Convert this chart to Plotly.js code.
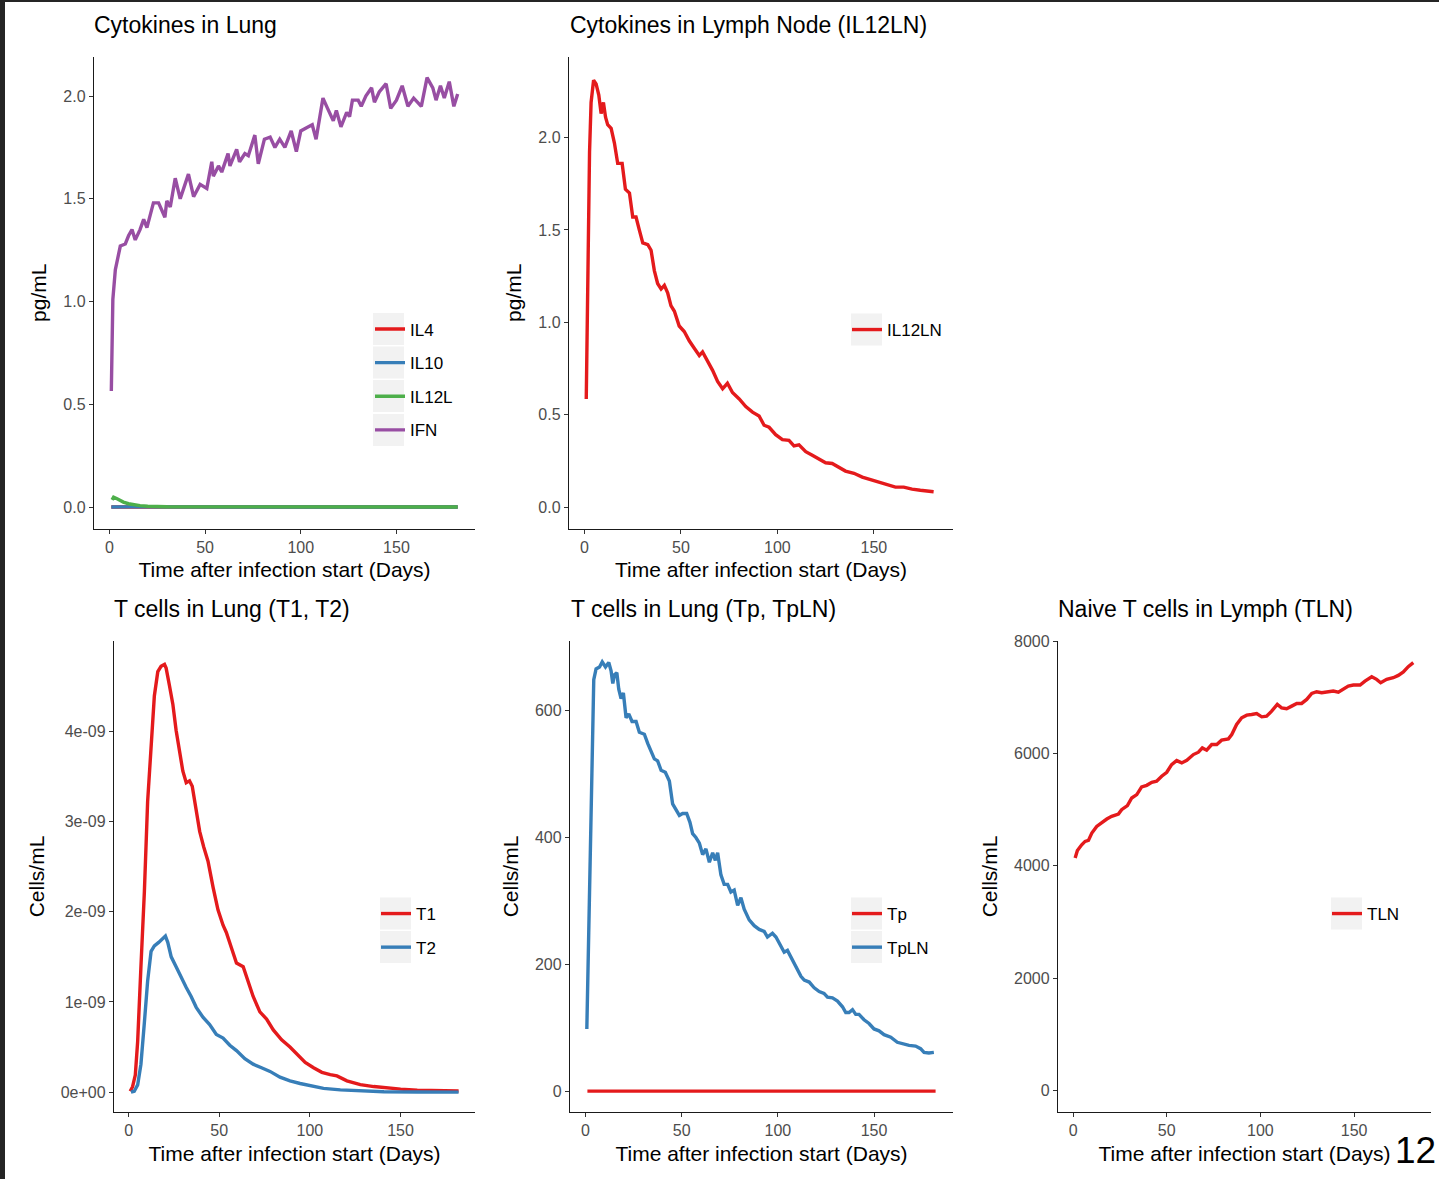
<!DOCTYPE html>
<html>
<head>
<meta charset="utf-8">
<script src="https://cdn.plot.ly/plotly-3.0.1.min.js"></script>
<style>
html,body{margin:0;padding:0;background:#fff;}
#chart{width:1439px;height:1179px;}
</style>
</head>
<body>
<div id="chart"></div>
<script>
// ---------------- DATA ----------------
const dayTicks = [0, 50, 100, 150];
const dayTickText = ['0', '50', '100', '150'];

// Panel 1: Cytokines in Lung (pg/mL)
const il4Days = [1, 91, 182];
const il4Values = [0, 0, 0];
const il10Days = [1, 5, 10, 182];
const il10Values = [0, 0.001, 0.0005, 0];
const il12lDays = [1.4, 2.2, 4, 7.3, 10, 12.5, 16, 20, 30, 182];
const il12lValues = [0.035, 0.048, 0.04, 0.024, 0.016, 0.011, 0.007, 0.004, 0.001, 0];
const ifnDays = [1, 1.8, 3.1, 5.7, 8.3, 10, 11.8, 13.5, 16, 17.9, 19.6, 23, 25.7, 29, 30, 31.8, 34.4, 37, 41.3, 44, 47.4, 50.9, 53.5, 54.3, 57, 58.7, 62, 63, 66.5, 68, 70.8, 72.6, 76, 77.8, 81, 84, 86.5, 89, 91.7, 95, 97.7, 100, 104, 106, 108, 111.6, 114, 117, 118.6, 121, 124, 125.5, 127, 130, 131.6, 134, 137, 138.5, 141, 144.6, 147, 150, 153, 156, 159, 163, 166, 169, 170.7, 173, 175, 177.6, 180, 182];
const ifnValues = [0.565, 1.01, 1.155, 1.27, 1.28, 1.32, 1.35, 1.30, 1.35, 1.40, 1.36, 1.48, 1.48, 1.41, 1.49, 1.46, 1.60, 1.50, 1.62, 1.51, 1.57, 1.55, 1.68, 1.61, 1.66, 1.63, 1.72, 1.66, 1.74, 1.68, 1.72, 1.71, 1.81, 1.67, 1.79, 1.80, 1.75, 1.79, 1.75, 1.83, 1.73, 1.83, 1.85, 1.86, 1.79, 1.99, 1.94, 1.88, 1.93, 1.85, 1.92, 1.90, 1.98, 1.98, 1.95, 2.00, 2.04, 1.97, 2.02, 2.06, 1.94, 1.98, 2.05, 1.95, 1.99, 1.95, 2.09, 2.04, 1.98, 2.05, 1.99, 2.07, 1.95, 2.01];
const pgTicks = [0, 0.5, 1, 1.5, 2];
const pgTickText = ['0.0', '0.5', '1.0', '1.5', '2.0'];

// Panel 2: Cytokines in Lymph Node (pg/mL)
const il12lnDays = [0.9, 1.7, 2.6, 3.4, 4.7, 6, 7.4, 8.6, 9.8, 10.9, 12, 13.8, 15.5, 17.2, 19.5, 21.2, 23.3, 25, 26.7, 28.4, 30.2, 32.8, 34.5, 36.2, 37.9, 39.7, 41.4, 43.1, 44.8, 46.6, 49.1, 51.7, 54.3, 56.9, 59.5, 61.2, 63.8, 66.4, 69, 71.6, 74.1, 76.7, 80.2, 83.6, 87.1, 90.5, 93.1, 95.7, 99.1, 102.6, 106, 108.6, 111.2, 114.7, 118.1, 121.6, 125, 128.4, 131.9, 135.3, 139.7, 144, 148.3, 152.6, 156.9, 161.2, 165.5, 169.8, 174.1, 181];
const il12lnValues = [0.585, 1.32, 1.92, 2.19, 2.31, 2.29, 2.23, 2.13, 2.19, 2.11, 2.07, 2.05, 1.97, 1.86, 1.86, 1.72, 1.70, 1.57, 1.57, 1.50, 1.43, 1.42, 1.39, 1.28, 1.21, 1.18, 1.20, 1.16, 1.09, 1.06, 0.98, 0.95, 0.90, 0.86, 0.82, 0.84, 0.79, 0.74, 0.68, 0.64, 0.67, 0.62, 0.585, 0.544, 0.514, 0.493, 0.443, 0.432, 0.392, 0.365, 0.361, 0.331, 0.337, 0.30, 0.28, 0.26, 0.24, 0.236, 0.215, 0.195, 0.183, 0.162, 0.148, 0.134, 0.118, 0.108, 0.108, 0.097, 0.091, 0.083];

// Panel 3: T cells in Lung (T1, T2) (cells/mL)
const t1Days = [0.9, 2.2, 3.7, 5, 6.8, 8.7, 10.5, 12.4, 14.2, 16.1, 17.9, 19.8, 20.7, 22.5, 24.4, 26.2, 28.1, 29.9, 31.8, 33.6, 35.1, 37.3, 39.2, 41.4, 43.8, 46.6, 49.3, 52.1, 53.9, 56.7, 59.5, 63.2, 66, 68.7, 72.4, 76.1, 79.8, 84.4, 89, 92.7, 97.4, 102, 106.6, 111.2, 114.9, 120.4, 127.8, 135.2, 142.6, 150, 159.2, 168.5, 182];
const t1Values = [1e-11, 6e-11, 1.9e-10, 5.6e-10, 1.39e-9, 2.22e-9, 3.22e-9, 3.89e-9, 4.39e-9, 4.66e-9, 4.72e-9, 4.74e-9, 4.70e-9, 4.51e-9, 4.30e-9, 4.01e-9, 3.76e-9, 3.56e-9, 3.43e-9, 3.45e-9, 3.39e-9, 3.14e-9, 2.89e-9, 2.72e-9, 2.56e-9, 2.27e-9, 2.02e-9, 1.85e-9, 1.77e-9, 1.60e-9, 1.43e-9, 1.39e-9, 1.23e-9, 1.06e-9, 8.9e-10, 8.1e-10, 6.9e-10, 5.8e-10, 5.0e-10, 4.2e-10, 3.3e-10, 2.7e-10, 2.2e-10, 1.95e-10, 1.8e-10, 1.25e-10, 8.3e-11, 6.2e-11, 4.6e-11, 3.3e-11, 2.1e-11, 1.7e-11, 1.2e-11];
const t2Days = [1.3, 3.1, 5, 6.8, 8.7, 10.5, 12.4, 14.2, 16.6, 18.8, 20.3, 21.6, 23.5, 26.2, 29, 31.8, 34.5, 37.3, 41, 44.7, 48.4, 52.1, 55.8, 59.5, 64.1, 68.7, 73.3, 78, 83.5, 89, 94.6, 100.1, 107.5, 116.8, 127.8, 140.8, 159.2, 182];
const t2Values = [0, 1e-11, 8e-11, 3.1e-10, 7.7e-10, 1.23e-9, 1.56e-9, 1.62e-9, 1.66e-9, 1.70e-9, 1.73e-9, 1.66e-9, 1.50e-9, 1.39e-9, 1.27e-9, 1.16e-9, 1.06e-9, 9.4e-10, 8.3e-10, 7.5e-10, 6.4e-10, 6.0e-10, 5.2e-10, 4.6e-10, 3.7e-10, 3.1e-10, 2.7e-10, 2.3e-10, 1.66e-10, 1.25e-10, 9.6e-11, 7.5e-11, 4.2e-11, 2.5e-11, 1.2e-11, 4e-12, 1e-12, 0];
const t12Ticks = [0, 1e-9, 2e-9, 3e-9, 4e-9];
const t12TickText = ['0e+00', '1e-09', '2e-09', '3e-09', '4e-09'];

// Panel 4: T cells in Lung (Tp, TpLN) (cells/mL)
const tpDays = [1, 91, 182];
const tpValues = [0, 0, 0];
const tplnDays = [0.7, 1.7, 2.6, 3.5, 4.3, 5.5, 7.3, 8.7, 10.4, 12.1, 13.3, 14.2, 15.1, 16.3, 17.3, 18.5, 19.7, 21.1, 22.5, 24.2, 26.3, 28, 30.6, 32.4, 34.1, 35.8, 37.5, 39.3, 41.5, 43.6, 45.3, 47.1, 48.8, 50.5, 52.6, 54.3, 55.7, 57.4, 59.2, 60.9, 62.6, 64.4, 66.1, 67.5, 68.7, 70.4, 72.1, 73.9, 75.6, 77.3, 79.1, 80.8, 82.5, 85.1, 87.7, 90.3, 92.9, 94.6, 97.2, 99, 101.6, 103.3, 105, 107.6, 110.2, 112, 113.7, 116.3, 118.9, 121.5, 124, 125.8, 128.4, 131, 133.6, 135.3, 137, 138.8, 140.5, 142.2, 144.8, 147.4, 150, 152.6, 155.2, 158.7, 162.1, 164.7, 168.2, 171.6, 174.2, 176, 178.5, 181.1];
const tplnValues = [98, 258, 435, 583, 649, 666, 669, 677, 669, 676, 663, 643, 657, 660, 634, 619, 628, 589, 595, 583, 583, 566, 563, 548, 536, 524, 521, 506, 503, 489, 453, 444, 435, 438, 438, 424, 406, 400, 391, 373, 382, 361, 376, 364, 376, 341, 326, 326, 314, 317, 293, 305, 287, 270, 261, 255, 252, 243, 249, 243, 228, 219, 222, 207, 193, 181, 175, 172, 163, 157, 154, 148, 147, 142, 133, 124, 124, 128.5, 121, 121, 112.5, 106.6, 98, 95, 89, 85, 77, 75, 72, 71, 67, 61, 60, 61];
const tpTicks = [0, 200, 400, 600];
const tpTickText = ['0', '200', '400', '600'];

// Panel 5: Naive T cells in Lymph (TLN) (cells/mL)
const tlnDays = [1.1, 2.3, 4.6, 6.4, 8.2, 10, 12.6, 15.3, 18, 20.6, 24.2, 25.9, 29, 31.3, 34, 36.6, 39.3, 42, 44.6, 47.3, 50, 52.6, 55.3, 58, 60.7, 64.2, 66.9, 69, 71.3, 74, 76.7, 79.3, 82.9, 84.7, 87.3, 90, 92.7, 95.3, 98, 100.7, 103.3, 106, 109, 111.3, 114, 116.7, 119.4, 122, 124.7, 127.4, 130, 132.7, 135.4, 138.9, 141.6, 144.3, 146.9, 149.6, 153.2, 155.8, 159.4, 162, 164.2, 167.4, 170.9, 173.6, 176.3, 178.9, 181.6];
const tlnValues = [4137, 4273, 4374, 4434, 4452, 4582, 4701, 4773, 4832, 4880, 4921, 4999, 5070, 5207, 5266, 5403, 5432, 5486, 5504, 5593, 5664, 5801, 5872, 5831, 5878, 5979, 6021, 6098, 6057, 6158, 6158, 6235, 6259, 6336, 6514, 6633, 6681, 6693, 6710, 6651, 6663, 6752, 6871, 6811, 6794, 6841, 6889, 6889, 6960, 7067, 7097, 7079, 7097, 7109, 7091, 7150, 7198, 7216, 7216, 7287, 7364, 7317, 7257, 7317, 7347, 7388, 7448, 7543, 7614];
const tlnTicks = [0, 2000, 4000, 6000, 8000];
const tlnTickText = ['0', '2000', '4000', '6000', '8000'];

const panelTitles = ['Cytokines in Lung', 'Cytokines in Lymph Node (IL12LN)', 'T cells in Lung (T1, T2)', 'T cells in Lung (Tp, TpLN)', 'Naive T cells in Lymph (TLN)'];
const xTitle = 'Time after infection start (Days)';
const pageNumber = '12';

// ---------------- STYLE / LAYOUT ----------------
const W = 1439, H = 1179;
const FONT = 'Liberation Sans, Arial, Helvetica, sans-serif';
const RED = '#E41A1C', BLUE = '#377EB8', GREEN = '#4DAF4A', PURPLE = '#984EA3';
const px = v => v / W;
const py = v => 1 - v / H;

function trace(x, y, name, color, xa, ya, legend) {
  return {type: 'scatter', mode: 'lines', x: x, y: y, name: name, xaxis: xa, yaxis: ya,
    legend: legend, legendgroup: name, line: {color: color, width: 3.4}};
}

const data = [
  trace(il4Days, il4Values, 'IL4', RED, 'x', 'y', 'legend'),
  trace(il10Days, il10Values, 'IL10', BLUE, 'x', 'y', 'legend'),
  trace(il12lDays, il12lValues, 'IL12L', GREEN, 'x', 'y', 'legend'),
  trace(ifnDays, ifnValues, 'IFN', PURPLE, 'x', 'y', 'legend'),
  trace(il12lnDays, il12lnValues, 'IL12LN', RED, 'x2', 'y2', 'legend2'),
  trace(t1Days, t1Values, 'T1', RED, 'x3', 'y3', 'legend3'),
  trace(t2Days, t2Values, 'T2', BLUE, 'x3', 'y3', 'legend3'),
  trace(tpDays, tpValues, 'Tp', RED, 'x4', 'y4', 'legend4'),
  trace(tplnDays, tplnValues, 'TpLN', BLUE, 'x4', 'y4', 'legend4'),
  trace(tlnDays, tlnValues, 'TLN', RED, 'x5', 'y5', 'legend5')
];

function xAxis(anchor, left, right) {
  return {
    domain: [px(left), px(right)], anchor: anchor, range: [-8.05, 191.05],
    tickmode: 'array', tickvals: dayTicks, ticktext: dayTickText,
    showline: true, linecolor: '#1a1a1a', linewidth: 1.4,
    ticks: 'outside', ticklen: 4, tickwidth: 1.2, tickcolor: '#333',
    showgrid: false, zeroline: false, automargin: false, fixedrange: true,
    tickfont: {family: FONT, size: 16, color: '#4d4d4d'},
    title: {text: xTitle, font: {family: FONT, size: 21, color: '#000'}, standoff: 7}
  };
}
function yAxis(anchor, top, bottom, range, vals, txt, title) {
  return {
    domain: [py(bottom), py(top)], anchor: anchor, range: range,
    tickmode: 'array', tickvals: vals, ticktext: txt,
    showline: true, linecolor: '#1a1a1a', linewidth: 1.4,
    ticks: 'outside', ticklen: 4, tickwidth: 1.2, tickcolor: '#333',
    showgrid: false, zeroline: false, automargin: false, fixedrange: true,
    tickfont: {family: FONT, size: 16, color: '#4d4d4d'},
    title: {text: title, font: {family: FONT, size: 21, color: '#000'}, standoff: 10}
  };
}
function legendAt(left, top) {
  return {x: px(left), y: py(top), xanchor: 'left', yanchor: 'top', orientation: 'v',
    bgcolor: 'rgba(0,0,0,0)', borderwidth: 0, traceorder: 'grouped', tracegroupgap: 8.5,
    font: {family: FONT, size: 17, color: '#000'}};
}
function keyBox(left, center) {
  return {type: 'rect', xref: 'paper', yref: 'paper', layer: 'above',
    x0: px(left), x1: px(left + 31), y0: py(center + 16), y1: py(center - 16),
    fillcolor: '#F2F2F2', line: {width: 0}};
}
function panelTitle(text, left, center) {
  return {text: text, xref: 'paper', yref: 'paper', x: px(left), y: py(center),
    xanchor: 'left', yanchor: 'middle', showarrow: false,
    font: {family: FONT, size: 23, color: '#000'}};
}

const layout = {
  width: W, height: H, margin: {l: 0, r: 0, t: 0, b: 0, pad: 0},
  paper_bgcolor: '#ffffff', plot_bgcolor: 'rgba(0,0,0,0)',
  font: {family: FONT}, showlegend: true, hovermode: false,
  xaxis: xAxis('y', 94, 475),
  yaxis: yAxis('x', 57, 528.5, [-0.1045, 2.19], pgTicks, pgTickText, 'pg/mL'),
  xaxis2: xAxis('y2', 569, 953),
  yaxis2: yAxis('x2', 57, 528.5, [-0.116, 2.436], pgTicks, pgTickText, 'pg/mL'),
  xaxis3: xAxis('y3', 114, 475),
  yaxis3: yAxis('x3', 641, 1112, [-0.22e-9, 5.0e-9], t12Ticks, t12TickText, 'Cells/mL'),
  xaxis4: xAxis('y4', 570, 953),
  yaxis4: yAxis('x4', 641, 1112, [-33, 710], tpTicks, tpTickText, 'Cells/mL'),
  xaxis5: xAxis('y5', 1058, 1431),
  yaxis5: yAxis('x5', 641, 1112, [-381, 8000], tlnTicks, tlnTickText, 'Cells/mL'),
  legend: legendAt(370, 311.5),
  legend2: legendAt(847, 312),
  legend3: legendAt(376, 896),
  legend4: legendAt(847, 896),
  legend5: legendAt(1327, 896),
  shapes: [
    keyBox(373, 329), keyBox(373, 362.5), keyBox(373, 396), keyBox(373, 430),
    keyBox(851, 329.5),
    keyBox(380, 913.5), keyBox(380, 947),
    keyBox(851, 913.5), keyBox(851, 947),
    keyBox(1331, 913.5),
    {type: 'rect', xref: 'paper', yref: 'paper', layer: 'above', x0: 0, x1: px(5), y0: 0, y1: 1,
      fillcolor: '#252525', line: {width: 0}},
    {type: 'rect', xref: 'paper', yref: 'paper', layer: 'above', x0: 0, x1: 1, y0: py(2), y1: 1,
      fillcolor: '#252525', line: {width: 0}}
  ],
  annotations: [
    panelTitle(panelTitles[0], 92, 25),
    panelTitle(panelTitles[1], 568, 25),
    panelTitle(panelTitles[2], 112, 609),
    panelTitle(panelTitles[3], 569, 609),
    panelTitle(panelTitles[4], 1056, 609),
    {text: pageNumber, xref: 'paper', yref: 'paper', x: px(1438), y: py(1150), xanchor: 'right', yanchor: 'middle',
      showarrow: false, font: {family: FONT, size: 37, color: '#000'}}
  ]
};

Plotly.newPlot('chart', data, layout, {displayModeBar: false, responsive: false});
</script>
</body>
</html>
